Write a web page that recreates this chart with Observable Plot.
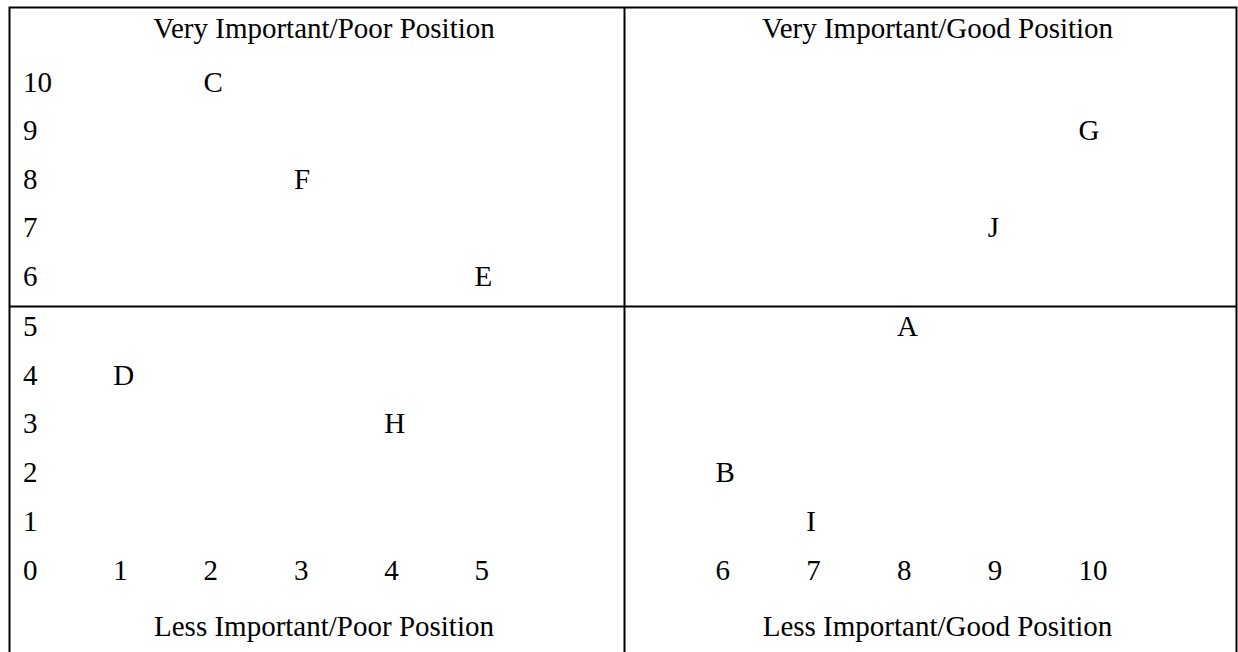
<!DOCTYPE html>
<html>
<head>
<meta charset="utf-8">
<script src="https://cdn.jsdelivr.net/npm/d3@7"></script>
<script src="https://cdn.jsdelivr.net/npm/@observablehq/plot@0.6"></script>
<style>
  html, body { margin: 0; padding: 0; background: #fff; }
  #chart svg { display: block; }
</style>
</head>
<body>
<div id="chart"></div>
<script>
// ---- data ----
const itemLabels = ["A", "B", "C", "D", "E", "F", "G", "H", "I", "J"];
const positionScore = [8, 6, 2, 1, 5, 3, 10, 4, 7, 9];      // x
const importanceScore = [5, 2, 10, 4, 6, 8, 9, 3, 1, 7];    // y
const xTickValues = [1, 2, 3, 4, 5, 6, 7, 8, 9, 10];
const yTickValues = [0, 1, 2, 3, 4, 5, 6, 7, 8, 9, 10];
const quadrantLabels = [
  "Very Important/Poor Position",
  "Very Important/Good Position",
  "Less Important/Poor Position",
  "Less Important/Good Position"
];
const quadrantImportance = ["Very", "Very", "Less", "Less"];
const quadrantSide = ["Poor", "Good", "Poor", "Good"];
const splitValue = 5.5; // boundary between the halves on both axes

// ---- layout ----
const W = 1238, H = 652;
const layout = {left: 9, top: 7, right: 1236, divX: 624, headerY: 28, footerY: 626, labelShift: 7};
const xScaleSpec = {type: "linear", domain: [0, 5, splitValue, 6, 10], range: [22.5, 474, layout.divX, 715, 1078]};
const yScaleSpec = {type: "linear", domain: [0, 5, splitValue, 6, 10], range: [570, 326, 306, 276, 82]};
const sx = Plot.scale({x: xScaleSpec});
const sy = Plot.scale({y: yScaleSpec});

const items = itemLabels.map((label, i) => ({label, x: positionScore[i], y: importanceScore[i]}));
const quadrants = quadrantLabels.map((label, i) => ({
  label,
  x: sx.invert((quadrantSide[i] === "Poor" ? (layout.left + layout.divX) / 2 : (layout.divX + layout.right) / 2) + layout.labelShift),
  y: sy.invert(quadrantImportance[i] === "Very" ? layout.headerY : layout.footerY)
}));

const font = "'Liberation Serif', 'Times New Roman', serif";
const fs = 29;

const chart = Plot.plot({
  width: W,
  height: H,
  marginLeft: layout.left,
  marginTop: layout.top,
  marginRight: W - layout.right,
  marginBottom: -4,
  style: {fontFamily: font, fontSize: fs + "px", background: "#fff", color: "#000"},
  x: {...xScaleSpec, axis: null},
  y: {...yScaleSpec, axis: null},
  marks: [
    Plot.frame({stroke: "#000", strokeWidth: 2}),
    Plot.ruleX([splitValue], {stroke: "#000", strokeWidth: 2}),
    Plot.ruleY([splitValue], {stroke: "#000", strokeWidth: 2}),
    Plot.text(quadrants, {x: "x", y: "y", text: "label", textAnchor: "middle", fontSize: fs, fill: "#000"}),
    Plot.text(yTickValues, {x: 0, y: d => d, text: d => String(d), textAnchor: "start", fontSize: fs, fill: "#000"}),
    Plot.text(xTickValues, {x: d => d, y: 0, text: d => String(d), textAnchor: "start", fontSize: fs, fill: "#000"}),
    Plot.text(items, {x: "x", y: "y", text: "label", textAnchor: "start", fontSize: fs, fill: "#000"})
  ]
});
document.getElementById("chart").appendChild(chart);
</script>
</body>
</html>
